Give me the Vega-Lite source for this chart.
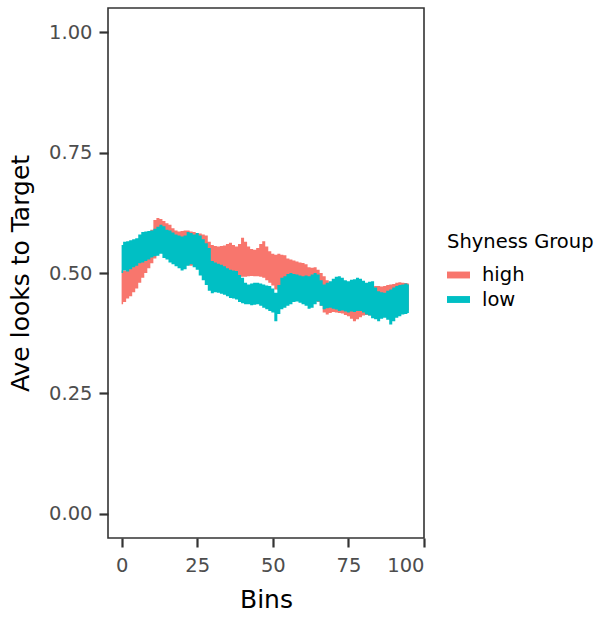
{
  "$schema": "https://vega.github.io/schema/vega-lite/v6.json",
  "width": 316,
  "height": 530,
  "autosize": "none",
  "padding": {"left": 108, "top": 8, "right": 178, "bottom": 82},
  "background": "white",
  "config": {
    "font": "DejaVu Sans",
    "view": {"stroke": "#333333", "strokeWidth": 1.6},
    "axis": {"grid": false, "domain": false, "tickColor": "#333333", "tickWidth": 2.2, "tickSize": 9,
             "labelColor": "#4D4D4D", "labelFont": "DejaVu Sans", "labelFontSize": 19.5,
             "titleColor": "#000000", "titleFont": "DejaVu Sans", "titleFontSize": 25, "titleFontWeight": "normal"}
  },
  "data": {"values": [
    {"Bins":0,"group":"high","lo":0.435,"hi":0.505},{"Bins":1,"group":"high","lo":0.440,"hi":0.505},{"Bins":2,"group":"high","lo":0.447,"hi":0.508},{"Bins":3,"group":"high","lo":0.452,"hi":0.512},{"Bins":4,"group":"high","lo":0.460,"hi":0.518},{"Bins":5,"group":"high","lo":0.468,"hi":0.520},{"Bins":6,"group":"high","lo":0.480,"hi":0.524},{"Bins":7,"group":"high","lo":0.490,"hi":0.530},{"Bins":8,"group":"high","lo":0.500,"hi":0.545},{"Bins":9,"group":"high","lo":0.510,"hi":0.565},{"Bins":10,"group":"high","lo":0.520,"hi":0.590},{"Bins":11,"group":"high","lo":0.530,"hi":0.610},{"Bins":12,"group":"high","lo":0.540,"hi":0.614},{"Bins":13,"group":"high","lo":0.545,"hi":0.612},{"Bins":14,"group":"high","lo":0.540,"hi":0.608},{"Bins":15,"group":"high","lo":0.535,"hi":0.603},{"Bins":16,"group":"high","lo":0.530,"hi":0.600},{"Bins":17,"group":"high","lo":0.525,"hi":0.593},{"Bins":18,"group":"high","lo":0.520,"hi":0.588},{"Bins":19,"group":"high","lo":0.518,"hi":0.586},{"Bins":20,"group":"high","lo":0.520,"hi":0.587},{"Bins":21,"group":"high","lo":0.518,"hi":0.588},{"Bins":22,"group":"high","lo":0.516,"hi":0.588},{"Bins":23,"group":"high","lo":0.515,"hi":0.586},{"Bins":24,"group":"high","lo":0.516,"hi":0.585},{"Bins":25,"group":"high","lo":0.513,"hi":0.583},{"Bins":26,"group":"high","lo":0.510,"hi":0.582},{"Bins":27,"group":"high","lo":0.508,"hi":0.580},{"Bins":28,"group":"high","lo":0.505,"hi":0.578},{"Bins":29,"group":"high","lo":0.500,"hi":0.565},{"Bins":30,"group":"high","lo":0.497,"hi":0.558},{"Bins":31,"group":"high","lo":0.495,"hi":0.556},{"Bins":32,"group":"high","lo":0.496,"hi":0.555},{"Bins":33,"group":"high","lo":0.495,"hi":0.556},{"Bins":34,"group":"high","lo":0.497,"hi":0.557},{"Bins":35,"group":"high","lo":0.498,"hi":0.560},{"Bins":36,"group":"high","lo":0.497,"hi":0.563},{"Bins":37,"group":"high","lo":0.496,"hi":0.558},{"Bins":38,"group":"high","lo":0.494,"hi":0.555},{"Bins":39,"group":"high","lo":0.492,"hi":0.560},{"Bins":40,"group":"high","lo":0.492,"hi":0.573},{"Bins":41,"group":"high","lo":0.492,"hi":0.565},{"Bins":42,"group":"high","lo":0.493,"hi":0.555},{"Bins":43,"group":"high","lo":0.494,"hi":0.550},{"Bins":44,"group":"high","lo":0.493,"hi":0.548},{"Bins":45,"group":"high","lo":0.493,"hi":0.552},{"Bins":46,"group":"high","lo":0.492,"hi":0.560},{"Bins":47,"group":"high","lo":0.490,"hi":0.566},{"Bins":48,"group":"high","lo":0.485,"hi":0.555},{"Bins":49,"group":"high","lo":0.480,"hi":0.545},{"Bins":50,"group":"high","lo":0.474,"hi":0.540},{"Bins":51,"group":"high","lo":0.466,"hi":0.538},{"Bins":52,"group":"high","lo":0.465,"hi":0.540},{"Bins":53,"group":"high","lo":0.466,"hi":0.538},{"Bins":54,"group":"high","lo":0.467,"hi":0.537},{"Bins":55,"group":"high","lo":0.468,"hi":0.530},{"Bins":56,"group":"high","lo":0.468,"hi":0.528},{"Bins":57,"group":"high","lo":0.466,"hi":0.526},{"Bins":58,"group":"high","lo":0.464,"hi":0.524},{"Bins":59,"group":"high","lo":0.462,"hi":0.522},{"Bins":60,"group":"high","lo":0.460,"hi":0.521},{"Bins":61,"group":"high","lo":0.457,"hi":0.518},{"Bins":62,"group":"high","lo":0.455,"hi":0.512},{"Bins":63,"group":"high","lo":0.452,"hi":0.511},{"Bins":64,"group":"high","lo":0.448,"hi":0.512},{"Bins":65,"group":"high","lo":0.440,"hi":0.507},{"Bins":66,"group":"high","lo":0.432,"hi":0.500},{"Bins":67,"group":"high","lo":0.418,"hi":0.493},{"Bins":68,"group":"high","lo":0.414,"hi":0.485},{"Bins":69,"group":"high","lo":0.417,"hi":0.480},{"Bins":70,"group":"high","lo":0.419,"hi":0.478},{"Bins":71,"group":"high","lo":0.418,"hi":0.476},{"Bins":72,"group":"high","lo":0.417,"hi":0.475},{"Bins":73,"group":"high","lo":0.416,"hi":0.474},{"Bins":74,"group":"high","lo":0.413,"hi":0.473},{"Bins":75,"group":"high","lo":0.410,"hi":0.472},{"Bins":76,"group":"high","lo":0.405,"hi":0.471},{"Bins":77,"group":"high","lo":0.400,"hi":0.470},{"Bins":78,"group":"high","lo":0.404,"hi":0.470},{"Bins":79,"group":"high","lo":0.408,"hi":0.469},{"Bins":80,"group":"high","lo":0.412,"hi":0.468},{"Bins":81,"group":"high","lo":0.413,"hi":0.468},{"Bins":82,"group":"high","lo":0.412,"hi":0.470},{"Bins":83,"group":"high","lo":0.415,"hi":0.471},{"Bins":84,"group":"high","lo":0.418,"hi":0.473},{"Bins":85,"group":"high","lo":0.420,"hi":0.473},{"Bins":86,"group":"high","lo":0.418,"hi":0.472},{"Bins":87,"group":"high","lo":0.415,"hi":0.473},{"Bins":88,"group":"high","lo":0.417,"hi":0.475},{"Bins":89,"group":"high","lo":0.419,"hi":0.476},{"Bins":90,"group":"high","lo":0.420,"hi":0.477},{"Bins":91,"group":"high","lo":0.421,"hi":0.480},{"Bins":92,"group":"high","lo":0.422,"hi":0.481},{"Bins":93,"group":"high","lo":0.420,"hi":0.480},{"Bins":94,"group":"high","lo":0.421,"hi":0.479},{"Bins":95,"group":"high","lo":0.422,"hi":0.478},
    {"Bins":0,"group":"low","lo":0.500,"hi":0.558},{"Bins":1,"group":"low","lo":0.505,"hi":0.565},{"Bins":2,"group":"low","lo":0.503,"hi":0.566},{"Bins":3,"group":"low","lo":0.508,"hi":0.568},{"Bins":4,"group":"low","lo":0.512,"hi":0.570},{"Bins":5,"group":"low","lo":0.515,"hi":0.572},{"Bins":6,"group":"low","lo":0.520,"hi":0.580},{"Bins":7,"group":"low","lo":0.522,"hi":0.585},{"Bins":8,"group":"low","lo":0.525,"hi":0.586},{"Bins":9,"group":"low","lo":0.528,"hi":0.587},{"Bins":10,"group":"low","lo":0.532,"hi":0.588},{"Bins":11,"group":"low","lo":0.535,"hi":0.592},{"Bins":12,"group":"low","lo":0.536,"hi":0.596},{"Bins":13,"group":"low","lo":0.540,"hi":0.600},{"Bins":14,"group":"low","lo":0.531,"hi":0.597},{"Bins":15,"group":"low","lo":0.528,"hi":0.590},{"Bins":16,"group":"low","lo":0.522,"hi":0.588},{"Bins":17,"group":"low","lo":0.518,"hi":0.584},{"Bins":18,"group":"low","lo":0.514,"hi":0.580},{"Bins":19,"group":"low","lo":0.510,"hi":0.578},{"Bins":20,"group":"low","lo":0.505,"hi":0.576},{"Bins":21,"group":"low","lo":0.508,"hi":0.578},{"Bins":22,"group":"low","lo":0.515,"hi":0.585},{"Bins":23,"group":"low","lo":0.518,"hi":0.583},{"Bins":24,"group":"low","lo":0.512,"hi":0.580},{"Bins":25,"group":"low","lo":0.507,"hi":0.583},{"Bins":26,"group":"low","lo":0.495,"hi":0.578},{"Bins":27,"group":"low","lo":0.485,"hi":0.570},{"Bins":28,"group":"low","lo":0.475,"hi":0.562},{"Bins":29,"group":"low","lo":0.463,"hi":0.552},{"Bins":30,"group":"low","lo":0.458,"hi":0.525},{"Bins":31,"group":"low","lo":0.460,"hi":0.522},{"Bins":32,"group":"low","lo":0.459,"hi":0.519},{"Bins":33,"group":"low","lo":0.457,"hi":0.517},{"Bins":34,"group":"low","lo":0.455,"hi":0.514},{"Bins":35,"group":"low","lo":0.452,"hi":0.510},{"Bins":36,"group":"low","lo":0.448,"hi":0.507},{"Bins":37,"group":"low","lo":0.447,"hi":0.505},{"Bins":38,"group":"low","lo":0.445,"hi":0.504},{"Bins":39,"group":"low","lo":0.440,"hi":0.496},{"Bins":40,"group":"low","lo":0.437,"hi":0.490},{"Bins":41,"group":"low","lo":0.435,"hi":0.480},{"Bins":42,"group":"low","lo":0.435,"hi":0.476},{"Bins":43,"group":"low","lo":0.433,"hi":0.478},{"Bins":44,"group":"low","lo":0.434,"hi":0.480},{"Bins":45,"group":"low","lo":0.435,"hi":0.480},{"Bins":46,"group":"low","lo":0.432,"hi":0.478},{"Bins":47,"group":"low","lo":0.428,"hi":0.476},{"Bins":48,"group":"low","lo":0.425,"hi":0.474},{"Bins":49,"group":"low","lo":0.421,"hi":0.473},{"Bins":50,"group":"low","lo":0.418,"hi":0.468},{"Bins":51,"group":"low","lo":0.400,"hi":0.459},{"Bins":52,"group":"low","lo":0.415,"hi":0.475},{"Bins":53,"group":"low","lo":0.425,"hi":0.490},{"Bins":54,"group":"low","lo":0.428,"hi":0.493},{"Bins":55,"group":"low","lo":0.432,"hi":0.498},{"Bins":56,"group":"low","lo":0.435,"hi":0.500},{"Bins":57,"group":"low","lo":0.440,"hi":0.498},{"Bins":58,"group":"low","lo":0.441,"hi":0.497},{"Bins":59,"group":"low","lo":0.438,"hi":0.495},{"Bins":60,"group":"low","lo":0.435,"hi":0.493},{"Bins":61,"group":"low","lo":0.432,"hi":0.495},{"Bins":62,"group":"low","lo":0.426,"hi":0.493},{"Bins":63,"group":"low","lo":0.428,"hi":0.497},{"Bins":64,"group":"low","lo":0.435,"hi":0.500},{"Bins":65,"group":"low","lo":0.441,"hi":0.497},{"Bins":66,"group":"low","lo":0.432,"hi":0.485},{"Bins":67,"group":"low","lo":0.425,"hi":0.476},{"Bins":68,"group":"low","lo":0.427,"hi":0.480},{"Bins":69,"group":"low","lo":0.428,"hi":0.483},{"Bins":70,"group":"low","lo":0.426,"hi":0.488},{"Bins":71,"group":"low","lo":0.424,"hi":0.492},{"Bins":72,"group":"low","lo":0.421,"hi":0.493},{"Bins":73,"group":"low","lo":0.422,"hi":0.490},{"Bins":74,"group":"low","lo":0.420,"hi":0.485},{"Bins":75,"group":"low","lo":0.418,"hi":0.483},{"Bins":76,"group":"low","lo":0.420,"hi":0.486},{"Bins":77,"group":"low","lo":0.419,"hi":0.487},{"Bins":78,"group":"low","lo":0.421,"hi":0.490},{"Bins":79,"group":"low","lo":0.421,"hi":0.488},{"Bins":80,"group":"low","lo":0.418,"hi":0.484},{"Bins":81,"group":"low","lo":0.414,"hi":0.480},{"Bins":82,"group":"low","lo":0.412,"hi":0.482},{"Bins":83,"group":"low","lo":0.406,"hi":0.483},{"Bins":84,"group":"low","lo":0.404,"hi":0.470},{"Bins":85,"group":"low","lo":0.400,"hi":0.462},{"Bins":86,"group":"low","lo":0.405,"hi":0.460},{"Bins":87,"group":"low","lo":0.407,"hi":0.459},{"Bins":88,"group":"low","lo":0.403,"hi":0.463},{"Bins":89,"group":"low","lo":0.393,"hi":0.466},{"Bins":90,"group":"low","lo":0.400,"hi":0.470},{"Bins":91,"group":"low","lo":0.407,"hi":0.473},{"Bins":92,"group":"low","lo":0.410,"hi":0.475},{"Bins":93,"group":"low","lo":0.414,"hi":0.476},{"Bins":94,"group":"low","lo":0.415,"hi":0.478},{"Bins":95,"group":"low","lo":0.417,"hi":0.476}
  ]},
  "mark": {"type": "area", "interpolate": "step", "opacity": 1},
  "encoding": {
    "x": {"field": "Bins", "type": "quantitative",
          "scale": {"domain": [-4.5, 100], "nice": false, "zero": false},
          "axis": {"title": "Bins", "values": [0, 25, 50, 75, 100], "labelPadding": 9, "titleY": 69, "titleBaseline": "alphabetic"}},
    "y": {"field": "lo", "type": "quantitative",
          "scale": {"domain": [-0.05, 1.05], "nice": false, "zero": false},
          "axis": {"title": "Ave looks to Target", "values": [0, 0.25, 0.5, 0.75, 1], "format": ".2f", "labelPadding": 7,
                   "titleX": -80, "titleY": 265, "titleAngle": 270, "titleBaseline": "alphabetic", "titleAlign": "center"}},
    "y2": {"field": "hi"},
    "color": {"field": "group", "type": "nominal",
              "scale": {"domain": ["high", "low"], "range": ["#F8766D", "#00BFC4"]},
              "legend": {"title": "Shyness Group", "orient": "none", "legendX": 339, "legendY": 225,
                         "titleFont": "DejaVu Sans", "titleFontSize": 19.5, "titleColor": "#000000", "titleFontWeight": "normal", "titlePadding": 11,
                         "labelFont": "DejaVu Sans", "labelFontSize": 19.5, "labelColor": "#000000", "labelOffset": 12,
                         "symbolType": "M-1,-0.3H1V0.3H-1Z", "symbolSize": 529, "symbolStrokeWidth": 0,
                         "rowPadding": 3.5, "padding": 0}}
  }
}
